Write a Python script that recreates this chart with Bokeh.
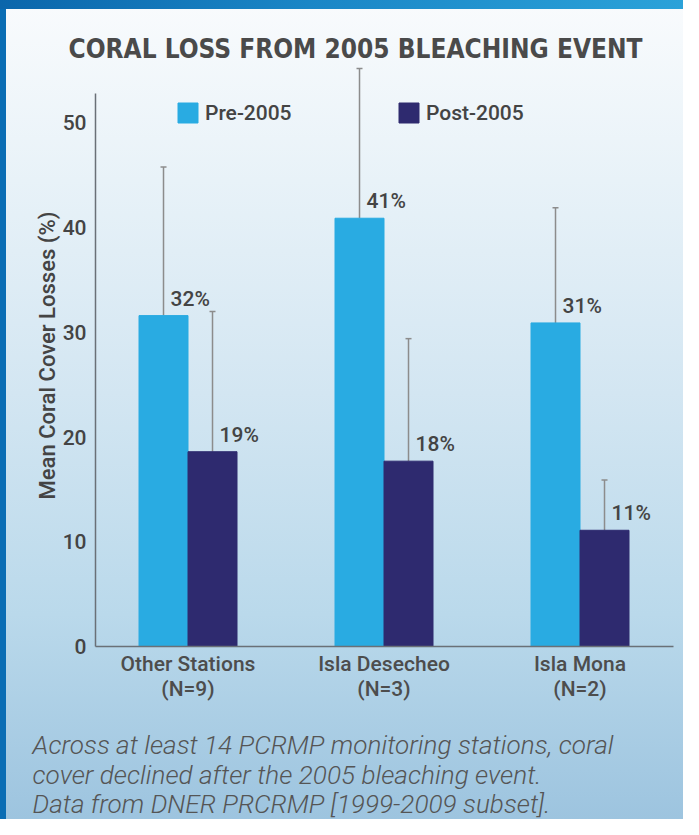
from bokeh.plotting import figure
from bokeh.models import (ColumnDataSource, Range1d, FixedTicker, Whisker, TeeHead,
                          Legend, LegendItem, Title)
from bokeh.core.properties import value
from bokeh.embed import file_html
from bokeh.resources import INLINE

# ---- data ----
sites = ["Other Stations", "Isla Desecheo", "Isla Mona"]
n_stations = [9, 3, 2]
pre_2005 = [31.6, 40.9, 30.9]
post_2005 = [18.6, 17.7, 11.1]
pre_err = [14.2, 14.3, 11.0]
post_err = [13.4, 11.7, 4.8]
pre_labels = ["32%", "41%", "31%"]
post_labels = ["19%", "18%", "11%"]
y_ticks = [0, 10, 20, 30, 40, 50]
series_names = ["Pre-2005", "Post-2005"]
title_text = "CORAL LOSS FROM 2005 BLEACHING EVENT"
notes = ["Across at least 14 PCRMP monitoring stations, coral",
         "cover declined after the 2005 bleaching event.",
         "Data from DNER PRCRMP [1999-2009 subset]."]

PRE_C = "#29abe2"
POST_C = "#2e2a6f"
TXT = "#444444"
MED = "Roboto Medium"

idx = list(range(len(sites)))
x_pre = [i - 0.125 for i in idx]
x_post = [i + 0.125 for i in idx]

src_pre = ColumnDataSource(dict(x=x_pre, top=pre_2005,
                                upper=[v + e for v, e in zip(pre_2005, pre_err)],
                                label=pre_labels))
src_post = ColumnDataSource(dict(x=x_post, top=post_2005,
                                 upper=[v + e for v, e in zip(post_2005, post_err)],
                                 label=post_labels))

p = figure(width=683, height=819, output_backend="svg", toolbar_location=None,
           x_range=Range1d(-0.472, 2.477), y_range=Range1d(0, 55.58),
           min_border_left=95, min_border_right=10, min_border_top=64,
           min_border_bottom=172)
p.background_fill_alpha = 0
p.border_fill_alpha = 0
p.outline_line_color = None
p.grid.visible = False
p.styles = {
    "background": ("linear-gradient(to right, #0b66ab, #1a86c6 45%, #2ba2d9) "
                   "top left / 100% 9px no-repeat, "
                   "linear-gradient(#0a6db4, #0a6db4) top left / 6px 100% no-repeat, "
                   "linear-gradient(to bottom, #f9fbfd 0%, #e8f2f8 22%, #d3e6f2 48%, "
                   "#bad9eb 75%, #9dc4df 100%)")
}

# title (above)
p.title.text = title_text
p.title.align = "left"
p.title.offset = -27
p.title.standoff = 2
p.title.text_font = "DejaVu Sans Condensed"
p.title.text_font_style = "bold"
p.title.text_font_size = "26px"
p.title.text_color = "#4a4a4a"

r_pre = p.vbar(x="x", top="top", bottom=0, width=0.25, source=src_pre,
               fill_color=PRE_C, line_color=PRE_C)
r_post = p.vbar(x="x", top="top", bottom=0, width=0.25, source=src_post,
                fill_color=POST_C, line_color=POST_C)

for src in (src_pre, src_post):
    p.add_layout(Whisker(source=src, base="x", lower="top", upper="upper",
                         dimension="height", line_color="#8c8c8c", line_width=1.5,
                         upper_head=TeeHead(size=6, line_color="#8c8c8c", line_width=1.5),
                         lower_head=None))
    p.text(x="x", y="top", text="label", source=src, x_offset=7, y_offset=-5,
           text_align="left", text_baseline="bottom",
           text_font=value(MED), text_font_size="21px", text_color=TXT)

legend = Legend(items=[LegendItem(label=series_names[0], renderers=[r_pre]),
                       LegendItem(label=series_names[1], renderers=[r_post])],
                orientation="horizontal", location=(80, 521),
                glyph_width=25, glyph_height=25, label_standoff=5, label_width=191,
                spacing=0, padding=0, margin=0, border_line_color=None,
                background_fill_alpha=0, label_text_font=MED,
                label_text_font_size="21px", label_text_color=TXT)
p.add_layout(legend)

# axes
xa = p.xaxis[0]
xa.ticker = FixedTicker(ticks=idx)
xa.major_label_overrides = {i: f"{s}\n(N={n})" for i, s, n in zip(idx, sites, n_stations)}
xa.major_tick_line_color = None
xa.minor_tick_line_color = None
xa.major_tick_out = 0
xa.major_tick_in = 0
xa.major_label_standoff = 5
xa.major_label_text_font = MED
xa.major_label_text_font_size = "21px"
xa.major_label_text_color = "#4d4d4d"
xa.major_label_text_line_height = 1.05
xa.axis_line_color = "#6a7077"
xa.axis_line_width = 1.5

ya = p.yaxis[0]
ya.ticker = FixedTicker(ticks=y_ticks)
ya.bounds = (0, 52.8)
ya.major_tick_line_color = None
ya.minor_tick_line_color = None
ya.major_tick_out = 0
ya.major_tick_in = 0
ya.major_label_standoff = 9
ya.major_label_text_font = MED
ya.major_label_text_font_size = "21px"
ya.major_label_text_color = TXT
ya.axis_line_color = "#6a7077"
ya.axis_line_width = 1.5
ya.axis_label = "Mean Coral Cover Losses (%)"
ya.axis_label_standoff = 0
ya.axis_label_text_font = MED
ya.axis_label_text_font_size = "22px"
ya.axis_label_text_font_style = "normal"
ya.axis_label_text_color = TXT

# spacing between the axis labels and the footnote
p.add_layout(Title(text=" ", text_font_size="1px", standoff=22), "below")
# footnote (below)
p.add_layout(Title(text="\n".join(notes), align="left", offset=-63, standoff=0,
                   text_font="Roboto Light", text_font_style="italic",
                   text_font_size="26.2px", text_line_height=0.99,
                   text_color="#555555"), "below")

open("out.html", "w").write(file_html(p, INLINE))
